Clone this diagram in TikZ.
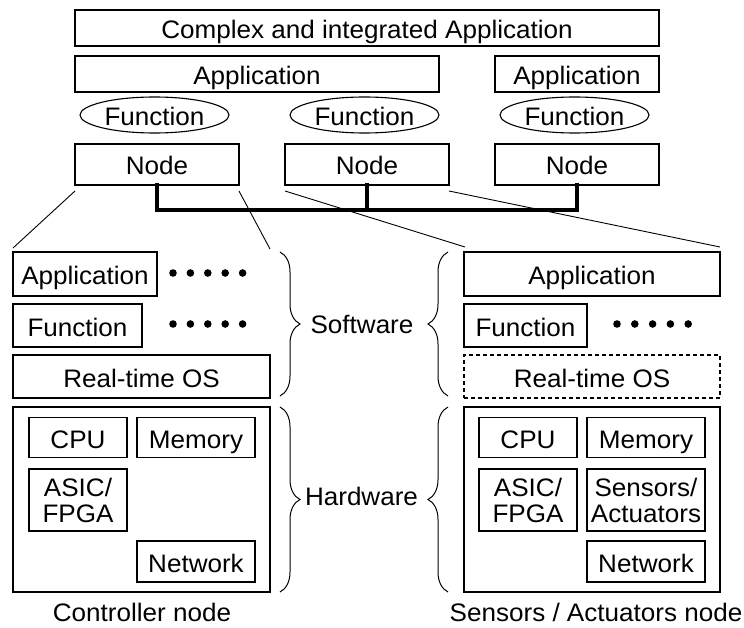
\documentclass[tikz,border=0pt]{standalone}
\usepackage{fontspec}
\setmainfont[FakeStretch=1.03]{Liberation Sans}
\usetikzlibrary{shapes.geometric,decorations.pathreplacing,calc}
\begin{document}
\begin{tikzpicture}[x=1pt,y=-1pt,
  font=\fontsize{25.3}{26}\selectfont,
  frame/.style={draw, line width=1.2pt, inner sep=0pt, outer sep=0pt},
  one/.style={frame, text height=21pt, text depth=0pt},
  two/.style={frame, align=center},
  oval/.style={ellipse, draw, line width=1.1pt, inner sep=0pt,
    minimum width=149pt, minimum height=36pt, text height=21pt, text depth=0pt},
  bus/.style={line width=4pt, line cap=rect},
  link/.style={line width=0.9pt},
  grp/.style={decorate, decoration={brace, amplitude=20pt}, line width=1pt},
  lbl/.style={text height=21pt, text depth=0pt, inner sep=0pt},
  dotrow/.style={fill=black}]
\useasboundingbox (0,0) rectangle (744,628);

% top level: applications, functions and nodes
\node[one, minimum width=584pt, minimum height=36pt] (cplx) at (367,28) {Complex and integrated Application};
\node[one, minimum width=364pt, minimum height=36pt] (appL) at (257,74) {Application};
\node[one, minimum width=164pt, minimum height=36pt] (appR) at (577,74) {Application};

\node[oval] (fnL) at (154.5,115) {Function};
\node[oval] (fnM) at (364.5,115) {Function};
\node[oval] (fnR) at (574.5,115) {Function};

\node[one, minimum width=164pt, minimum height=41pt] (nodeL) at (157,164.5) {Node};
\node[one, minimum width=164pt, minimum height=41pt] (nodeM) at (367,164.5) {Node};
\node[one, minimum width=164pt, minimum height=41pt] (nodeR) at (577,164.5) {Node};

% network bus
\coordinate (busy) at (0,210);
\draw[bus] (nodeL.south) -- (nodeL.south |- busy) -- (nodeR.south |- busy) -- (nodeR.south);
\draw[bus] (nodeM.south) -- (nodeM.south |- busy);

% controller node detail
\node[one, minimum width=144pt, minimum height=44pt] (appSL) at (85,274) {Application};
\node[one, minimum width=129pt, minimum height=43pt] (fnSL) at (77.5,325.5) {Function};
\node[one, minimum width=257pt, minimum height=43pt] (osL) at (141.5,376.5) {Real-time OS};
\node[frame, minimum width=257pt, minimum height=185pt] (hwL) at (141.5,499.5) {};
\node[one, minimum width=98pt, minimum height=40pt] (cpuL) at (78,437.5) {CPU};
\node[one, minimum width=118pt, minimum height=40pt] (memL) at (196,437.5) {Memory};
\node[two, minimum width=98pt, minimum height=62pt] (asicL) at (78,500) {ASIC/\\FPGA};
\node[one, minimum width=118pt, minimum height=41pt] (netL) at (196,561.5) {Network};

\foreach \i in {0,...,4} {
  \fill[dotrow] (173+17.4*\i,273) circle (3.8pt);
  \fill[dotrow] (173+17.4*\i,324) circle (3.8pt);
}

% sensors / actuators node detail
\node[one, minimum width=256pt, minimum height=44pt] (appSR) at (592,274) {Application};
\node[one, minimum width=123pt, minimum height=43pt] (fnSR) at (525.5,325.5) {Function};
\node[one, minimum width=256pt, minimum height=43pt, dash pattern=on 4pt off 3pt] (osR) at (592,376.5) {Real-time OS};
\node[frame, minimum width=256pt, minimum height=185pt] (hwR) at (592,499.5) {};
\node[one, minimum width=98pt, minimum height=40pt] (cpuR) at (528,437.5) {CPU};
\node[one, minimum width=118pt, minimum height=40pt] (memR) at (646,437.5) {Memory};
\node[two, minimum width=98pt, minimum height=62pt] (asicR) at (528,500) {ASIC/\\FPGA};
\node[two, minimum width=118pt, minimum height=62pt] (senR) at (646,500) {Sensors/\\Actuators};
\node[one, minimum width=118pt, minimum height=41pt] (netR) at (646,561.5) {Network};

\foreach \i in {0,...,4} {
  \fill[dotrow] (617+17.8*\i,324) circle (3.8pt);
}

% zoom lines from the nodes to their details
\coordinate (zL1) at (13,248);
\coordinate (zL2) at (270,249);
\coordinate (zR1) at (465,247);
\coordinate (zR2) at (720,247);
\draw[link] ($(nodeL.south west)+(0,6)$) -- (zL1);
\draw[link] ($(nodeL.south east)+(0,6)$) -- (zL2);
\draw[link] ($(nodeM.south west)+(0,6)$) -- (zR1);
\draw[link] ($(nodeM.south east)+(0,6)$) -- (zR2);

% braces and layer labels
\draw[grp] (280,252) -- (280,396);
\draw[grp] (280,407) -- (280,592);
\draw[grp] (448,396) -- (448,252);
\draw[grp] (448,592) -- (448,407);
\node[lbl] (sw) at (362,322.5) {Software};
\node[lbl] (hw) at (361.5,494.5) {Hardware};

% captions
\node[lbl] (capL) at (142,611) {Controller node};
\node[lbl] (capR) at (596,611) {Sensors / Actuators node};
\end{tikzpicture}
\end{document}
